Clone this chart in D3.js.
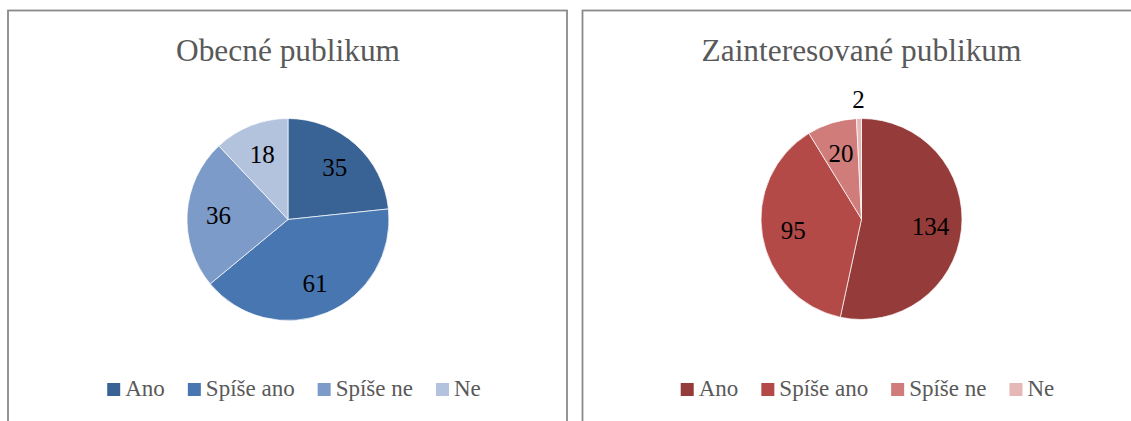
<!DOCTYPE html>
<html><head><meta charset="utf-8">
<script src="https://cdn.jsdelivr.net/npm/d3@7"></script>
<style>html,body{margin:0;padding:0;background:#fff;}svg{display:block;}</style>
</head><body>
<svg id="chart" width="1131" height="421"></svg>
<script>
const categories = ["Ano", "Spíše ano", "Spíše ne", "Ne"];
const titles = ["Obecné publikum", "Zainteresované publikum"];
const generalValues = [35, 61, 36, 18];
const interestedValues = [134, 95, 20, 2];
const bluePalette = ["#3A6395", "#4776B0", "#7D9BC8", "#B3C2DD"];
const redPalette = ["#953B3A", "#B34A48", "#CF7C7B", "#E5B7B6"];

const svg = d3.select("#chart");
const font = "'Liberation Serif','Times New Roman',serif";

const panels = [
  {x: 8, w: 559, cx: 288, cy: 219.5, r: 101, title: titles[0], values: generalValues, colors: bluePalette},
  {x: 582.5, w: 600, cx: 861.5, cy: 219, r: 100.5, title: titles[1], values: interestedValues, colors: redPalette}
];

panels.forEach(p => {
  svg.append("rect").attr("x", p.x).attr("y", 10.5).attr("width", p.w).attr("height", 440)
    .attr("fill", "#fff").attr("stroke", "#8a8a8a").attr("stroke-width", 1.8);

  svg.append("text").attr("x", p.cx).attr("y", 61).attr("text-anchor", "middle")
    .attr("font-family", font).attr("font-size", 31.4).attr("fill", "#595959").text(p.title);

  const color = d3.scaleOrdinal().domain(categories).range(p.colors);
  const data = categories.map((c, i) => ({cat: c, value: p.values[i]}));
  const total = d3.sum(p.values);
  const pie = d3.pie().value(d => d.value).sort(null);
  const arc = d3.arc().innerRadius(0).outerRadius(p.r);
  const g = svg.append("g").attr("transform", `translate(${p.cx},${p.cy})`);
  const arcs = pie(data);
  g.selectAll("path").data(arcs).join("path")
    .attr("d", arc).attr("fill", d => color(d.data.cat))
    .attr("stroke", "#fff").attr("stroke-width", 0.7);

  g.selectAll("text.lbl").data(arcs).join("text").attr("class", "lbl")
    .attr("transform", d => {
      const a = (d.startAngle + d.endAngle) / 2;
      const rr = d.data.value / total < 0.03 ? p.r + 19 : p.r * 0.69;
      return `translate(${Math.sin(a) * rr},${-Math.cos(a) * rr})`;
    })
    .attr("text-anchor", "middle").attr("dy", "0.35em")
    .attr("font-family", font).attr("font-size", 25).attr("fill", "#000")
    .text(d => d.data.value);

  // legend
  const lg = svg.append("g");
  const items = lg.selectAll("g").data(categories).join("g");
  items.append("rect").attr("width", 13).attr("height", 13).attr("y", -13)
    .attr("fill", d => color(d));
  items.append("text").attr("x", 18).attr("y", 0)
    .attr("font-family", font).attr("font-size", 23).attr("fill", "#595959").text(d => d);
  let xx = 0;
  items.each(function() {
    const t = d3.select(this).select("text").node().getComputedTextLength();
    d3.select(this).attr("transform", `translate(${xx},0)`);
    xx += 18 + t + 23;
  });
  const totalW = xx - 23;
  lg.attr("transform", `translate(${p.cx + 6 - totalW / 2},396)`);
});
</script>
</body></html>
